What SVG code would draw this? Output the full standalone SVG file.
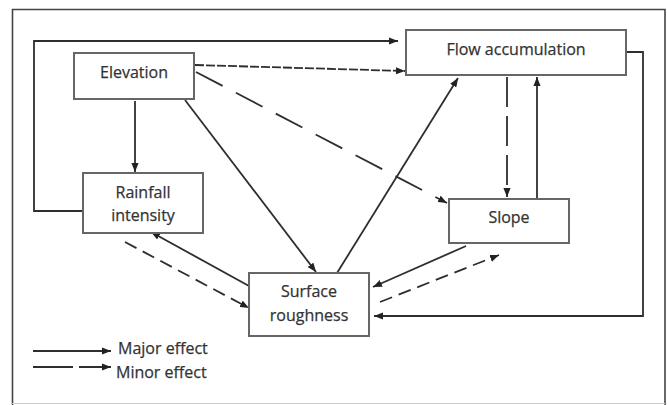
<svg xmlns="http://www.w3.org/2000/svg" width="667" height="405" viewBox="0 0 667 405">
<defs>
<marker id="ah" viewBox="0 0 10 8" refX="10" refY="4" markerWidth="9" markerHeight="7.5" markerUnits="userSpaceOnUse" orient="auto">
<path d="M0,0 L10,4 L0,8 z" fill="#222"/>
</marker>
<style>
.box{fill:#fff;stroke:#666;stroke-width:2}
.t{font-family:"Open Sans","Noto Sans",sans-serif;font-size:16px;fill:#333;text-anchor:middle;stroke:#333;stroke-width:0.25}
.lt{font-family:"Open Sans","Noto Sans",sans-serif;font-size:16px;fill:#333;stroke:#333;stroke-width:0.25}
.c{fill:none;stroke:#2e2e2e;stroke-width:1.8;marker-end:url(#ah)}
.d1{stroke-dasharray:30 15}
.d2{stroke-dasharray:30 9}
.d3{stroke-dasharray:13 7}
.d4{stroke-dasharray:9 2}
</style>
</defs>
<rect x="0" y="0" width="667" height="405" fill="#fff"/>
<path d="M12.5,405 V9.5 H665 V405" fill="none" stroke="#444" stroke-width="1.6"/>
<line x1="12" y1="403.5" x2="665" y2="403.5" stroke="#ccc" stroke-width="1"/>
<g id="connectors">
<path class="c" d="M83,211 H34 V41 H398"/>
<path class="c d4" d="M195,65 L405,71"/>
<path class="c d1" d="M196,72 L447,203"/>
<path class="c" d="M185,100 L316,272"/>
<path class="c" d="M135,101 V172"/>
<path class="c" d="M337,273 L458,78"/>
<path class="c d2" d="M507,77 V197"/>
<path class="c" d="M537,199 V77"/>
<path class="c" d="M627,52 H643 V316 H374"/>
<path class="c" d="M466,246 L373,287"/>
<path class="c d3" d="M380,302 L499,255"/>
<path class="c" d="M249,286 L151,232"/>
<path class="c d3" d="M125,242 L249,308"/>
<path class="c" d="M33,351 H111"/>
<path class="c" d="M33,367 H111" stroke-dasharray="40 6"/>
</g>
<g id="elevation">
<rect class="box" x="74" y="53" width="120" height="46"/>
<text class="t" x="134" y="78">Elevation</text>
</g>
<g id="flow">
<rect class="box" x="406" y="30" width="220" height="45"/>
<text class="t" x="516" y="55">Flow accumulation</text>
</g>
<g id="rainfall">
<rect class="box" x="83" y="173" width="120" height="60"/>
<text class="t" x="143" y="198">Rainfall</text>
<text class="t" x="143" y="221">intensity</text>
</g>
<g id="slope">
<rect class="box" x="449" y="199" width="120" height="44"/>
<text class="t" x="509" y="223">Slope</text>
</g>
<g id="roughness">
<rect class="box" x="249" y="273" width="120" height="63"/>
<text class="t" x="309" y="297">Surface</text>
<text class="t" x="309" y="321">roughness</text>
</g>
<g id="legend">
<text class="lt" x="118" y="354">Major effect</text>
<text class="lt" x="116" y="378">Minor effect</text>
</g>
</svg>
